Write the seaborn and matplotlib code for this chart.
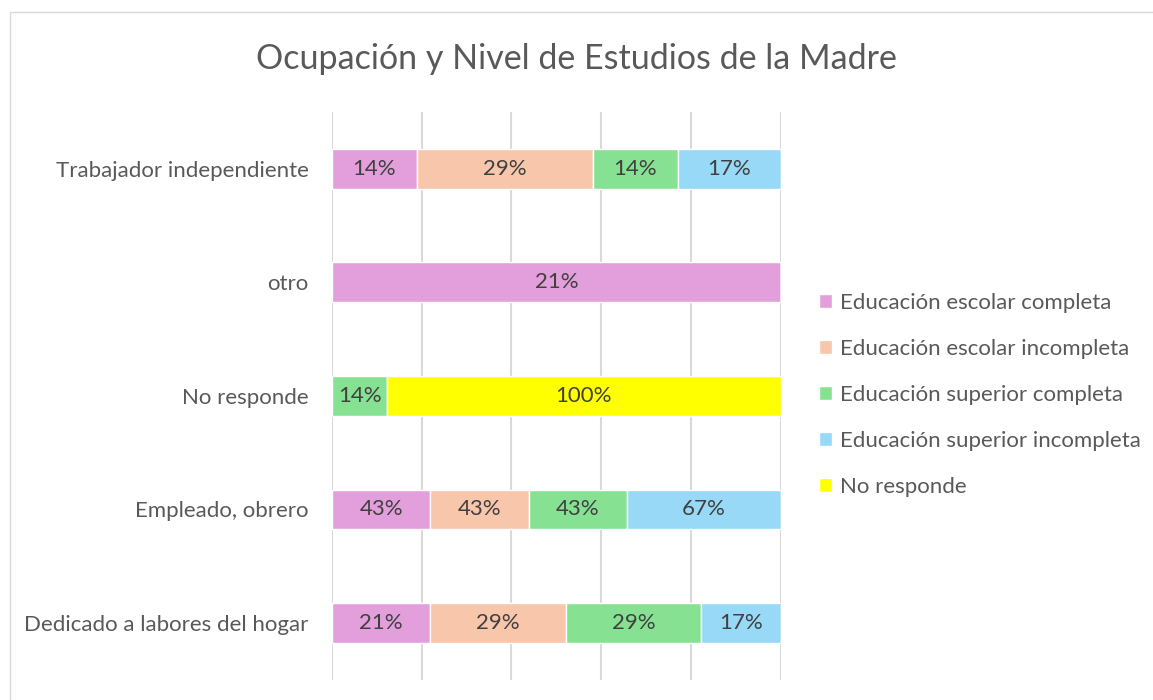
import numpy as np
import pandas as pd
import matplotlib
matplotlib.use('Agg')
import matplotlib.pyplot as plt
import seaborn as sns
from matplotlib.patches import Rectangle

# data (labels are the values shown, bars are 100% stacked)
ocupaciones = ['Trabajador independiente', 'otro', 'No responde',
               'Empleado, obrero', 'Dedicado a labores del hogar']
series = ['Educación escolar completa', 'Educación escolar incompleta',
          'Educación superior completa', 'Educación superior incompleta',
          'No responde']
esc_completa = [14, 21, 0, 43, 21]
esc_incompleta = [29, 0, 0, 43, 29]
sup_completa = [14, 0, 14, 43, 29]
sup_incompleta = [17, 0, 0, 67, 17]
no_responde = [0, 0, 100, 0, 0]
colores = ['#E39FDC', '#F7C6AB', '#86E292', '#97D9F7', '#FFFF00']

sns.set_theme(style='white')
plt.rcParams['font.family'] = ['Lato', 'DejaVu Sans']

df = pd.DataFrame({'ocupacion': ocupaciones,
                   series[0]: esc_completa, series[1]: esc_incompleta,
                   series[2]: sup_completa, series[3]: sup_incompleta,
                   series[4]: no_responde}).set_index('ocupacion')
pct = df.div(df.sum(axis=1), axis=0) * 100

fig = plt.figure(figsize=(11.53, 7), dpi=100)
ax = fig.add_axes([0.288, 0.029, 0.389, 0.811])

ypos = np.arange(len(ocupaciones))
left = np.zeros(len(ocupaciones))
for s, c in zip(series, colores):
    w = pct[s].values
    ax.barh(ypos, w, left=left, height=0.35, color=c, label=s, zorder=2)
    for y, l, ww, v in zip(ypos, left, w, df[s].values):
        if v > 0:
            ax.text(l + ww / 2, y, f'{v}%', ha='center', va='center',
                    fontsize=16, color='#404040', zorder=3)
    left += w

ax.set_xlim(0, 100)
ax.set_ylim(len(ocupaciones) - 0.5, -0.5)
ax.set_xticks([0, 20, 40, 60, 80, 100])
ax.set_xticklabels([])
ax.xaxis.grid(True, color='#D9D9D9', lw=1.5, zorder=0)
ax.set_yticks(ypos)
ax.set_yticklabels(ocupaciones, fontsize=16, color='#595959')
ax.tick_params(axis='y', length=0, pad=17)
ax.tick_params(axis='x', length=0)
for sp in ax.spines.values():
    sp.set_visible(False)

fig.text(0.5, 0.916, 'Ocupación y Nivel de Estudios de la Madre',
         ha='center', va='center', fontsize=24.5, color='#595959')

handles, labels = ax.get_legend_handles_labels()
fig.legend(handles, labels, loc='center left', bbox_to_anchor=(0.693, 0.436),
           frameon=False, fontsize=16, labelcolor='#595959',
           handlelength=0.6, handleheight=0.6, handletextpad=0.35,
           labelspacing=1.17)

fig.patches.append(Rectangle((10 / 1153, -0.01), 1.5, 1 - 12 / 700 + 0.01,
                             transform=fig.transFigure, fill=False,
                             edgecolor='#D9D9D9', lw=1))

fig.savefig('out.png', dpi=100, facecolor='white')
